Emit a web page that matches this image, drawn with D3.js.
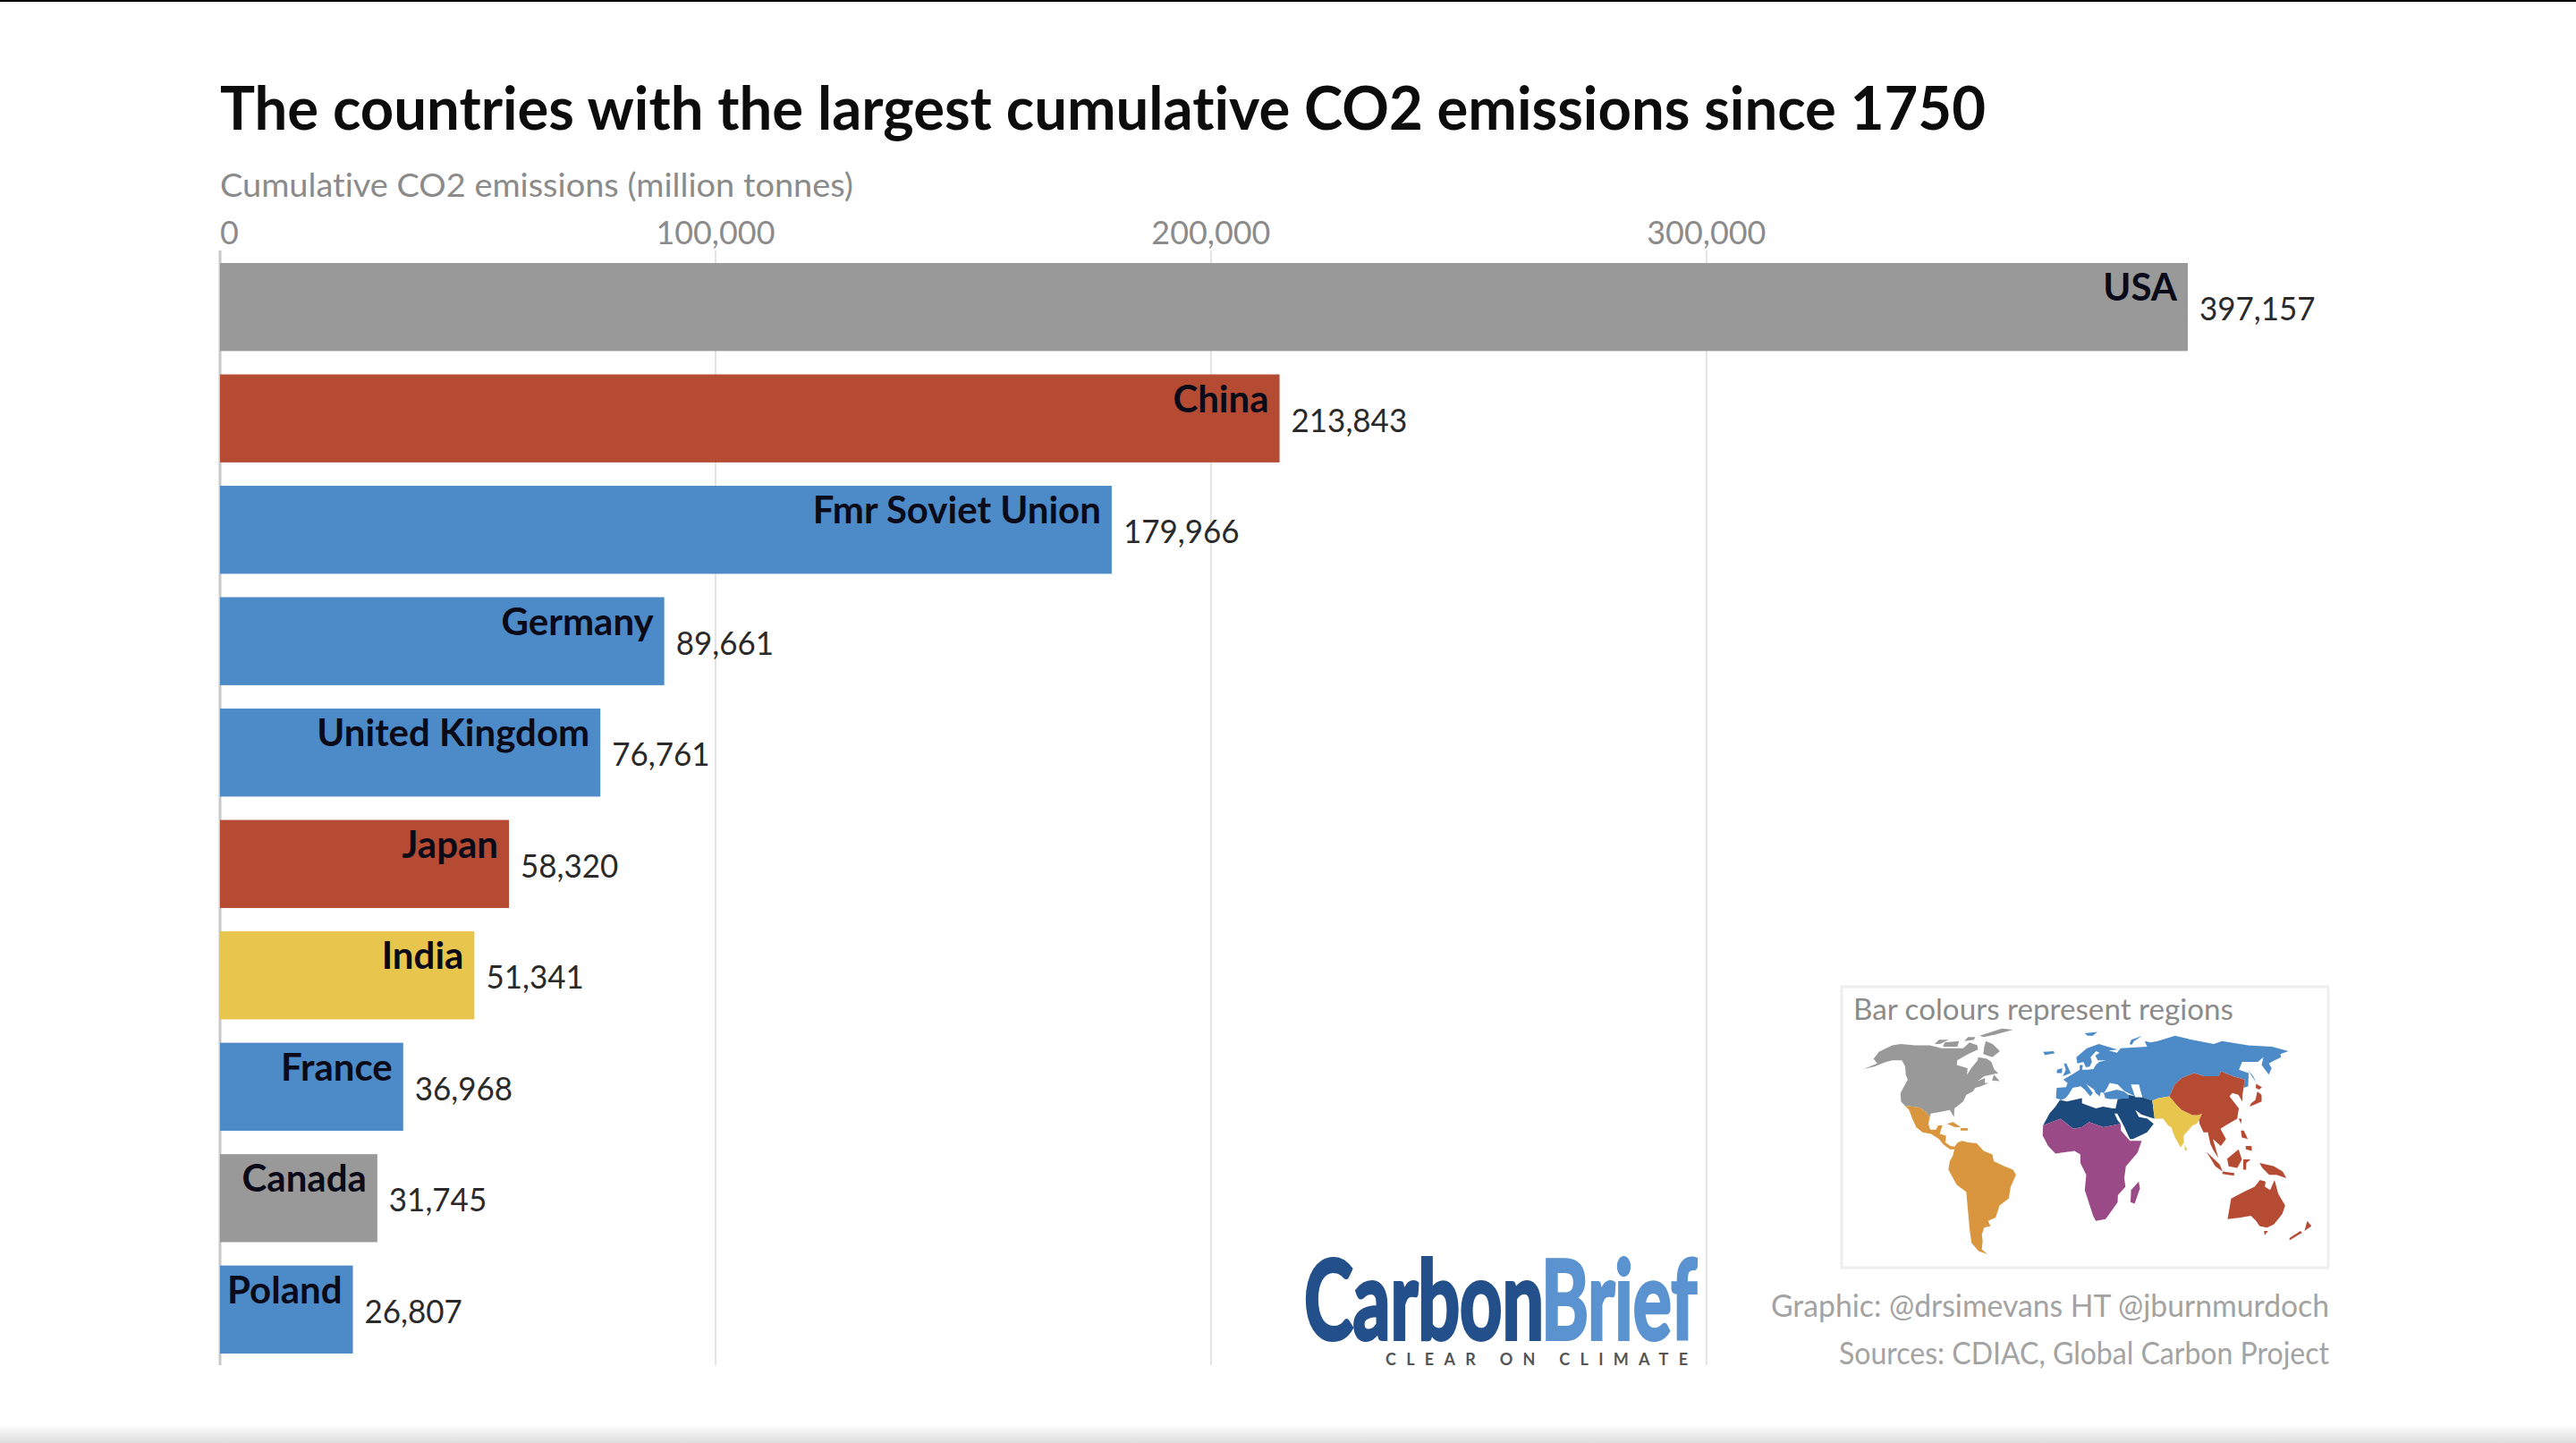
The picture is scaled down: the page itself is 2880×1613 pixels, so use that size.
<!DOCTYPE html>
<html><head><meta charset="utf-8">
<style>html,body{margin:0;padding:0;background:#fff;overflow:hidden}svg{display:block}text{font-family:Lato,"Open Sans",sans-serif;font-variant-ligatures:none}</style>
<script src="https://cdn.jsdelivr.net/npm/d3@7"></script></head><body>
<svg id="c" width="2880" height="1613"></svg>
<script>
const countries=["USA","China","Fmr Soviet Union","Germany","United Kingdom","Japan","India","France","Canada","Poland"];
const emissions=[397157,213843,179966,89661,76761,58320,51341,36968,31745,26807];
const regions=["na","asia","europe","europe","europe","asia","india","europe","na","europe"];
const tickValues=[0,100000,200000,300000];
const regionNames=["na","latin","europe","mideast","africa","india","asia"];
const regionColours=["#999999","#d9963e","#4c8ac8","#1c4a7c","#9a4a86","#e8c64e","#b54b33"];

// land outlines, [lon,lat]
const naLand=[
[[-167,65.5],[-162,70],[-156,71],[-141,70],[-128,70],[-115,68],[-108,68],[-96,68],[-94,72],[-85,70],[-82,67],[-88,64],[-94,60],[-92,57],[-82,55],[-80,51],[-79,55],[-77,60],[-78,62],[-70,61],[-65,59],[-60,54],[-56,52],[-66,50],[-70,47],[-65,49],[-64,46],[-61,46],[-66,44],[-70,43],[-71,41],[-75,39],[-76,35],[-81,31],[-80,26],[-82,28],[-84,30],[-90,29],[-97,28],[-97,26],[-101,29],[-106,31.5],[-117,32.5],[-121,35],[-124,40],[-124,48],[-128,51],[-133,56],[-140,60],[-148,60],[-152,59],[-158,56],[-165,54.5],[-158,58],[-165,61],[-166,64]],
[[-80,73],[-72,71],[-62,66],[-66,62],[-75,64],[-78,69]],
[[-117,72],[-105,73],[-102,69],[-115,69]],
[[-90,77],[-75,83],[-62,82],[-75,78],[-85,76]],
[[-125,74],[-116,74],[-120,71],[-125,71]],
[[-100,76],[-93,76],[-92,74],[-100,73]],
[[-59,51],[-53,47],[-59,47.5]]];
const latinLand=[
[[-117,32.5],[-106,31.5],[-101,29],[-97,26],[-97,22],[-95,18.5],[-91,18.5],[-90,21],[-87,21],[-88,16],[-83.5,15],[-83.5,11],[-80,9],[-77,8.5],[-75,11],[-72,12],[-68,11],[-62,10.5],[-57,6],[-51,4],[-50,0],[-44,-2.5],[-37,-5],[-35,-8],[-39,-15],[-41,-22],[-48,-26],[-52,-33],[-58,-35],[-57,-38],[-62,-39],[-65,-43],[-66,-47],[-69,-52],[-66,-55],[-72,-53],[-75,-48],[-73,-40],[-71,-30],[-70,-18],[-76,-14],[-81,-5],[-80,0],[-78,3],[-77,7],[-80,7],[-85,10],[-88,13],[-94,16],[-100,17],[-105,20],[-109,25],[-113,30]],
[[-84,22],[-80,23],[-74,20],[-78,20]],
[[-74,19.5],[-69,19.5],[-69,18],[-74,18]]];
const europeLand=[
[[-9,37],[-9,43],[-2,43.5],[-1,46],[-4.5,48],[2,51],[8,54],[8,57],[10.5,57],[10,54],[14,54],[19,54.5],[21,57],[24,59],[30,60],[23,60],[21,63],[25,65],[22,66],[17,62],[18,59],[16,56],[13,55.5],[11,59],[6,58],[5,62],[14,68],[25,71],[41,67],[33,66.5],[40,65],[44,68],[54,68.5],[68,69],[68,73],[73,72],[80,73],[100,77],[113,74],[130,71],[140,73],[160,70],[180,69],[190,66],[180,64],[178,62],[170,60],[163,58],[162,55],[156,51],[156,57],[163,62],[155,59],[142,59],[135,54],[141,52],[135,44],[131,43],[135,48],[127,50],[120,53],[116,50],[105,50],[98,52],[87,49],[80,45],[74,38],[66,37],[61,35.5],[54,37.5],[53,42],[47,45],[49,38],[44,40],[41,41.5],[37,45],[31,46],[28,42],[26,40],[24,40.5],[23,38],[20,40],[19,42],[13,45.5],[18,40],[16,38],[12,42],[9,44],[3,43],[0,39],[-2,37],[-5,36]],
[[26,40],[36,42],[41,41],[44,39],[44,37],[36,36.5],[30,36.5],[27,37]],
[[-5,58],[-3,58],[1,52],[-5,50],[-3,54]],[[-10,54],[-6,55],[-6,52],[-10,52]],
[[-24,65.5],[-15,66],[-14,64.5],[-22,63.5]],
[[53,71],[56,74],[68,77],[58,73],[55,70.5]],
[[12,79],[25,80],[20,77],[15,77]],
[[142,54],[143,50],[142.5,46],[142,50]]];
const mideastLand=[
[[-6,36],[-1,35],[10,37],[10,34],[20,31],[25,32],[32,31],[34,31],[36,36.5],[44,37],[44,39],[49,38],[54,37.5],[61,35.5],[61,25],[57,26],[52,27.5],[48,30],[50,26],[56,25],[60,22],[55,17],[45,13],[43,13],[39,21],[35,28],[33,28],[35,24],[37,22],[25,20],[15,23],[10,20],[4,19],[-5,25],[-17,21],[-13,28],[-9,32]]];
const africaLand=[
[[-17,21],[-5,25],[4,19],[10,20],[15,23],[25,20],[37,22],[37,18],[43,12],[51,12],[48,5],[40,-3],[39,-10],[40,-15],[35,-20],[35,-24],[32,-28],[27,-34],[20,-35],[18,-32],[12,-17],[13,-8],[9,-1],[9,4],[5,6],[-4,5],[-8,4.5],[-13,9],[-17,15]],
[[49,-12],[50,-16],[47,-25],[44,-24],[44,-17]]];
const indiaLand=[
[[61,25],[61,35.5],[66,37],[74,38],[78,33],[81,30],[88,27],[92,27],[95,28],[92,24],[90,22],[87,21],[80,15],[80,11],[77.5,8],[74,14],[72,20],[70,21],[67,25]],
[[80,9.5],[82,7],[80.5,6]]];
const asiaLand=[
[[74,38],[80,45],[87,49],[98,52],[105,50],[116,50],[120,53],[127,50],[135,48],[131,43],[128,39],[126,35],[125,39],[121,40],[118,38],[122,31],[119,25],[110,21],[106,19],[109,13],[105,9],[100,13],[103,2],[100,6],[98,10],[97,17],[94,17],[92,22],[92,24],[95,28],[92,27],[88,27],[81,30],[78,33]],
[[130,32],[132,34],[136,36],[140,41],[142,39],[140,35],[135,33.5]],[[140,43],[142,45.5],[145,43.5],[142,42]],
[[120,25],[122,25],[121,22]],[[120,18],[122,18],[124,13],[120,14]],[[122,9],[126,9],[126,6],[122,7]],
[[109,1.5],[117,7],[119,1],[116,-4],[110,-3]],[[95,5.5],[104,-2],[106,-6],[101,-3]],[[106,-6],[114,-7],[114,-8.5],[106,-7.5]],
[[120,1],[125,1],[122,-1],[122,-5],[120,-5]],[[131,-1],[141,-3],[147,-6],[150,-10],[143,-8],[138,-8],[133,-4]],
[[114,-22],[122,-18],[129,-15],[132,-11],[136,-12],[136,-15],[140,-17],[142,-11],[146,-19],[153,-26],[153,-31],[150,-37],[146,-39],[140,-38],[136,-35],[131,-32],[124,-33],[115,-34]],
[[145,-41],[148,-41],[147,-43.5]],[[173,-35],[178,-38],[175,-41]],[[172,-41],[174,-42],[168,-46.5],[167,-45]]];
const landByRegion=[naLand,latinLand,europeLand,mideastLand,africaLand,indiaLand,asiaLand];

const svg=d3.select("#c");
const x=d3.scaleLinear().domain([0,397157]).range([246,2446]);
const y=d3.scaleBand().domain(countries).range([294,1513]).paddingInner(0.21);
const colour=d3.scaleOrdinal().domain(regionNames).range(regionColours);
const fmt=d3.format(",");
function condense(sel,f){
  sel.each(function(){
    d3.select(this).attr("textLength",this.getComputedTextLength()*f).attr("lengthAdjust","spacingAndGlyphs");
  });
}
function label(t,px,py,size,fill,opts={}){
  const e=svg.append("text").attr("x",px).attr("y",py).attr("font-size",size).attr("fill",fill)
   .attr("font-weight",opts.weight||400).attr("text-anchor",opts.anchor||"start").text(t);
  if(opts.width) e.attr("textLength",opts.width).attr("lengthAdjust","spacingAndGlyphs");
  return e;
}
// window frame
svg.append("rect").attr("width",2880).attr("height",2).attr("fill","#000");
const g=svg.append("defs").append("linearGradient").attr("id","fade").attr("x1",0).attr("x2",0).attr("y1",0).attr("y2",1);
g.append("stop").attr("offset",0).attr("stop-color","#ffffff");
g.append("stop").attr("offset",1).attr("stop-color","#dedede");
svg.append("rect").attr("x",0).attr("y",1592).attr("width",2880).attr("height",21).attr("fill","url(#fade)");

// grid
svg.append("g").selectAll("line").data(tickValues).join("line")
 .attr("x1",d=>x(d)).attr("x2",d=>x(d)).attr("y1",280).attr("y2",1526)
 .attr("stroke",d=>d===0?"#c8c8c8":"#e3e3e3").attr("stroke-width",d=>d===0?3:2);

label("The countries with the largest cumulative CO2 emissions since 1750",246,145,66,"#0c0c0c",{weight:700,width:1974});
label("Cumulative CO2 emissions (million tonnes)",246,220,37,"#8b8b8b",{width:708});
svg.append("g").selectAll("text").data(tickValues).join("text")
 .attr("x",d=>x(d)).attr("y",273).attr("font-size",37).attr("fill","#8b8b8b")
 .attr("text-anchor",d=>d===0?"start":"middle").text(fmt).call(condense,0.97);

// bars
const rows=countries.map((c,i)=>({c,v:emissions[i],r:regions[i]}));
svg.append("g").selectAll("rect").data(rows).join("rect")
 .attr("x",x(0)).attr("y",d=>y(d.c)).attr("width",d=>x(d.v)-x(0)).attr("height",y.bandwidth()).attr("fill",d=>colour(d.r));
svg.append("g").selectAll("text").data(rows).join("text")
 .attr("x",d=>x(d.v)-12).attr("y",d=>y(d.c)+42).attr("font-size",42).attr("font-weight",700).attr("fill","#0a0a18")
 .attr("text-anchor","end").text(d=>d.c);
svg.append("g").selectAll("text").data(rows).join("text")
 .attr("x",d=>x(d.v)+13).attr("y",d=>y(d.c)+64).attr("font-size",37).attr("fill","#2a2a2a").text(d=>fmt(d.v)).call(condense,0.945);

// legend
svg.append("rect").attr("x",2059).attr("y",1103).attr("width",544).attr("height",314).attr("fill","#fff").attr("stroke","#eeeeee").attr("stroke-width",3);
label("Bar colours represent regions",2072,1140,33,"#8b8b8b",{width:425});
const proj=d3.geoNaturalEarth1().rotate([-11.5,0]).scale(108).translate([2330,1298]);
const pathOf=d3.line().curve(d3.curveLinearClosed);
const mapG=svg.append("g");
landByRegion.forEach((land,i)=>{
  mapG.append("g").selectAll("path").data(land).join("path")
   .attr("d",d=>pathOf(d.map(p=>proj(p)))).attr("fill",regionColours[i]);
});
// inland seas
mapG.append("path").attr("d",pathOf([[47,45],[53,45],[54,37.5],[49,37.5]].map(p=>proj(p)))).attr("fill","#fff");

// credits
label("Graphic: @drsimevans HT @jburnmurdoch",2604,1472,35,"#a3a3a3",{anchor:"end",width:624});
label("Sources: CDIAC, Global Carbon Project",2604,1525,35,"#a3a3a3",{anchor:"end",width:548});

// logo
const logo=svg.append("text").attr("y",1497).attr("font-size",122).attr("font-weight",700).attr("stroke-width",4)
 .style("font-family",'"Liberation Sans Narrow",Lato,sans-serif');
logo.append("tspan").attr("x",1458).attr("fill","#23508a").attr("stroke","#23508a").attr("textLength",268).attr("lengthAdjust","spacingAndGlyphs").text("Carbon");
logo.append("tspan").attr("x",1723).attr("fill","#5b92d0").attr("stroke","#5b92d0").attr("textLength",174).attr("lengthAdjust","spacingAndGlyphs").text("Brief");
label("CLEAR ON CLIMATE",1549,1526,18,"#555",{weight:700}).attr("textLength",338).attr("lengthAdjust","spacing");
</script></body></html>
